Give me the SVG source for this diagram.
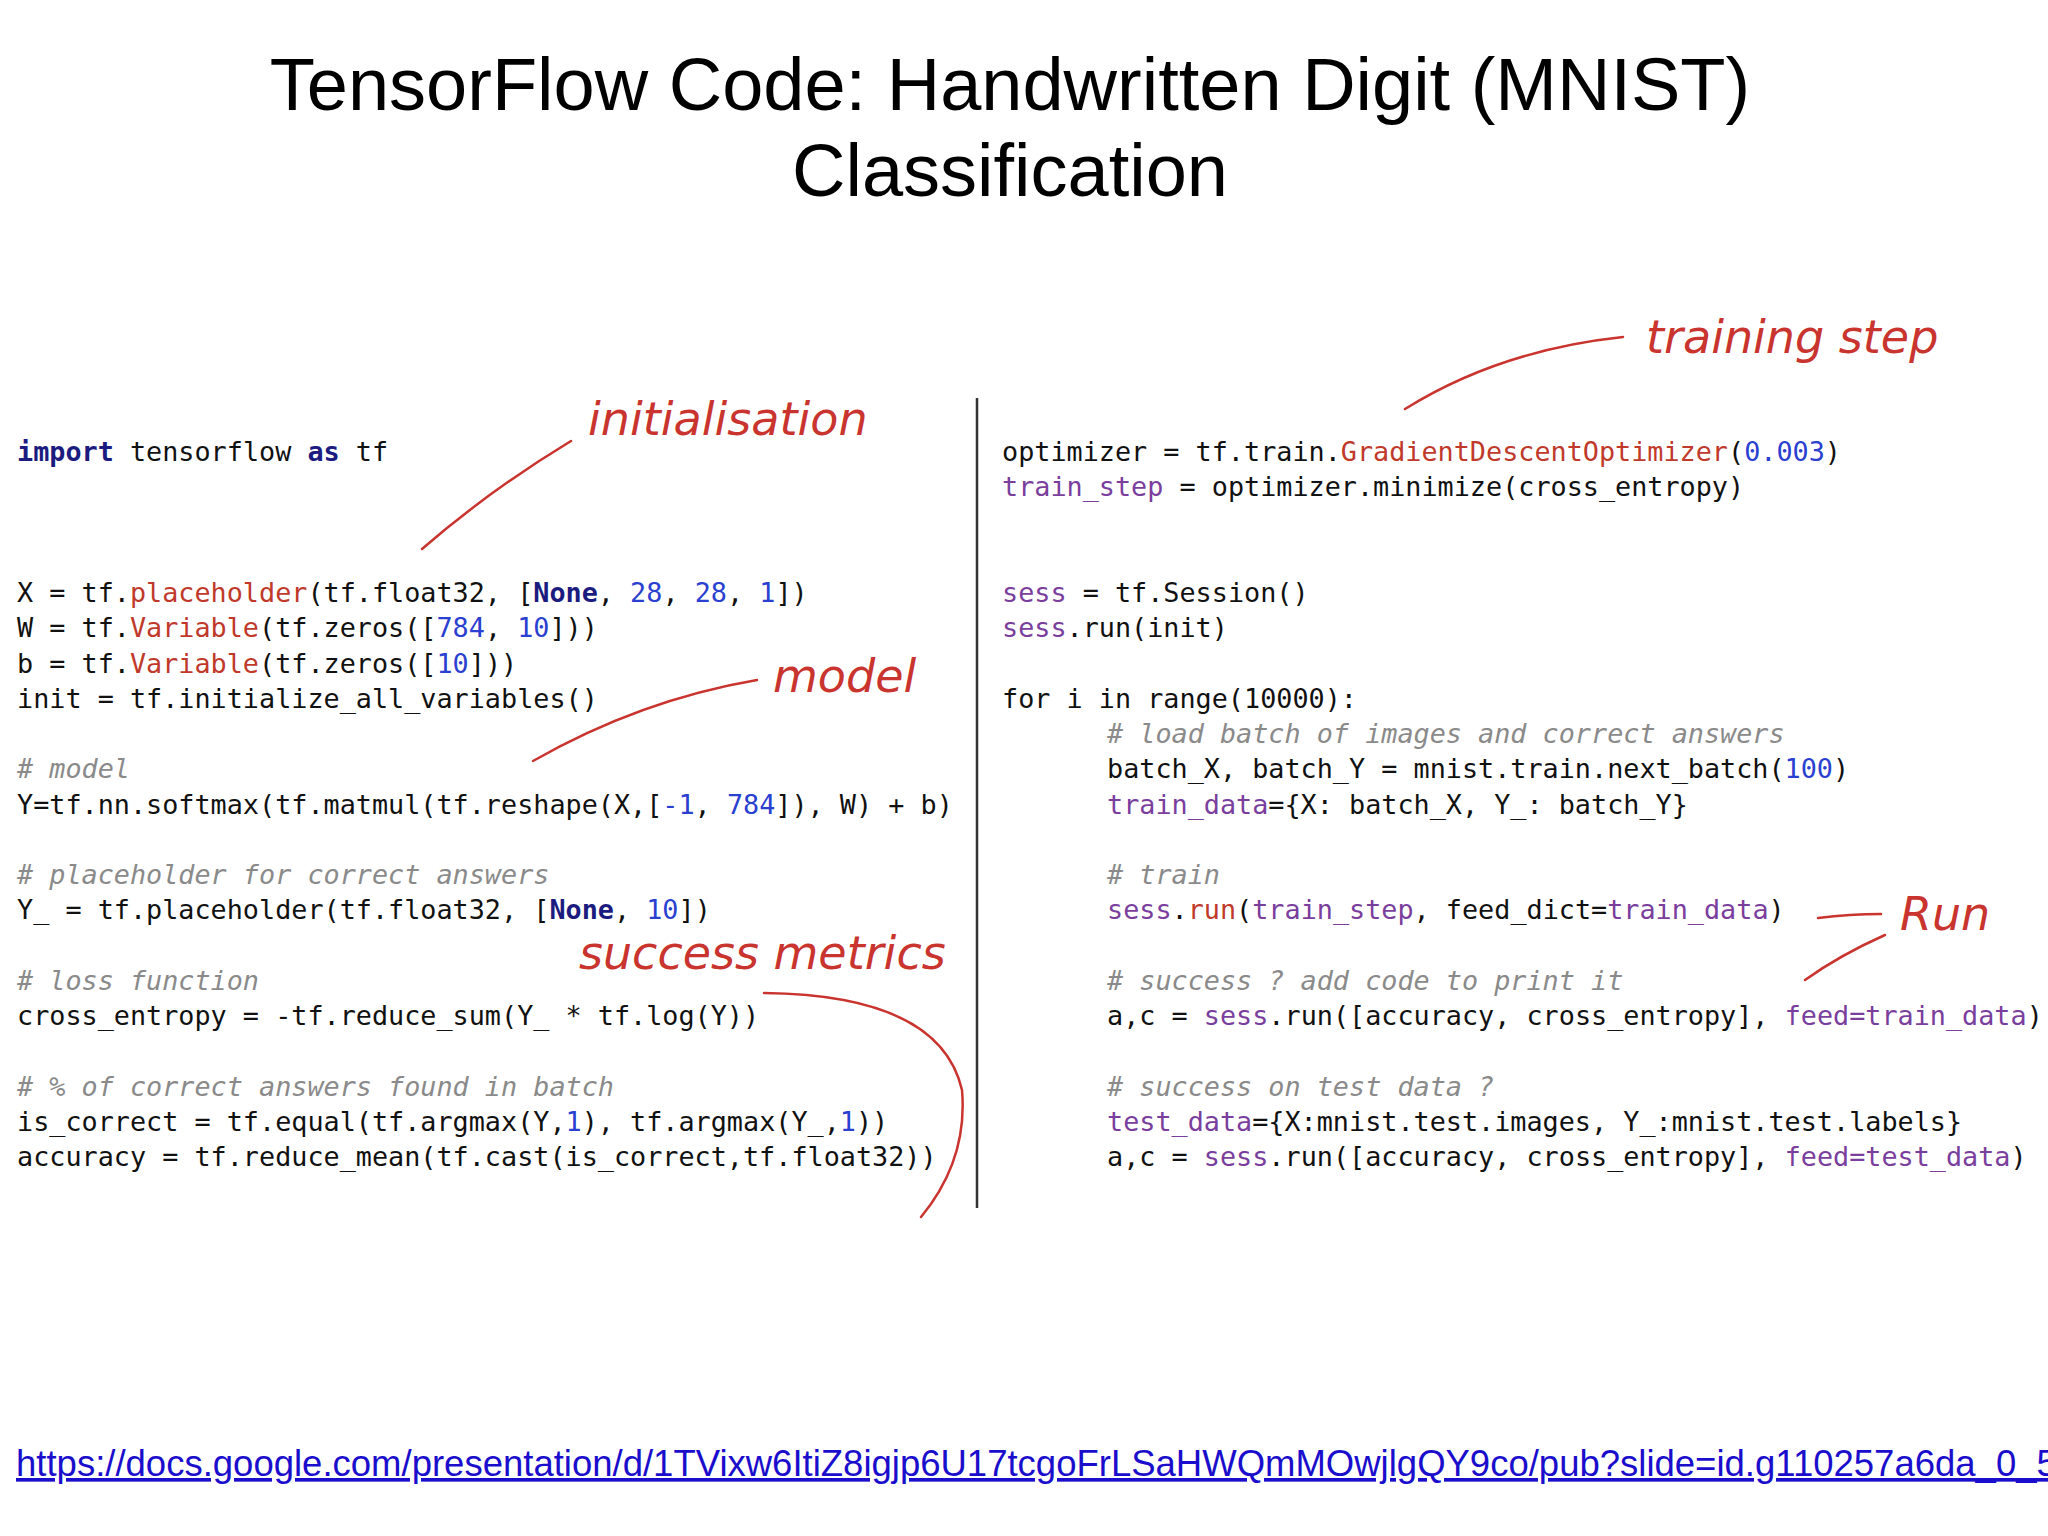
<svg xmlns="http://www.w3.org/2000/svg" width="2048" height="1536" viewBox="0 0 2048 1536">
<style>
.t{font-family:"Liberation Sans",Arial,sans-serif;font-size:74px;fill:#000;text-anchor:middle}
.c{font-family:"DejaVu Sans Mono","Liberation Mono",monospace;font-size:26.8px;fill:#111;white-space:pre}
.k{fill:#1c1c80;font-weight:bold}
.f{fill:#c0392b}
.n{fill:#2a40d0}
.v{fill:#7a3e9d}
.m{fill:#8a8a8a;font-style:italic}
.a{font-family:"DejaVu Sans","Liberation Sans",sans-serif;font-style:italic;font-weight:300;font-size:46px;fill:#c9342f}
.l{fill:none;stroke:#c9342f;stroke-width:2.5;stroke-linecap:round}
</style>
<rect width="2048" height="1536" fill="#fff"/>
<g id="title"><text class="t" x="1010" y="110">TensorFlow Code: Handwritten Digit (MNIST)</text><text class="t" x="1010" y="196">Classification</text></g>
<line x1="977" y1="398" x2="977" y2="1208" stroke="#333" stroke-width="2.5"/>
<g id="left-code">
<text class="c" x="17" y="461"><tspan class="k">import</tspan> tensorflow <tspan class="k">as</tspan> tf</text>
<text class="c" x="17" y="602">X = tf.<tspan class="f">placeholder</tspan>(tf.float32, [<tspan class="k">None</tspan>, <tspan class="n">28</tspan>, <tspan class="n">28</tspan>, <tspan class="n">1</tspan>])</text>
<text class="c" x="17" y="637">W = tf.<tspan class="f">Variable</tspan>(tf.zeros([<tspan class="n">784</tspan>, <tspan class="n">10</tspan>]))</text>
<text class="c" x="17" y="673">b = tf.<tspan class="f">Variable</tspan>(tf.zeros([<tspan class="n">10</tspan>]))</text>
<text class="c" x="17" y="708">init = tf.initialize_all_variables()</text>
<text class="c m" x="17" y="778"># model</text>
<text class="c" x="17" y="814">Y=tf.nn.softmax(tf.matmul(tf.reshape(X,[<tspan class="n">-1</tspan>, <tspan class="n">784</tspan>]), W) + b)</text>
<text class="c m" x="17" y="884"># placeholder for correct answers</text>
<text class="c" x="17" y="919">Y_ = tf.placeholder(tf.float32, [<tspan class="k">None</tspan>, <tspan class="n">10</tspan>])</text>
<text class="c m" x="17" y="990"># loss function</text>
<text class="c" x="17" y="1025">cross_entropy = -tf.reduce_sum(Y_ * tf.log(Y))</text>
<text class="c m" x="17" y="1096"># % of correct answers found in batch</text>
<text class="c" x="17" y="1131">is_correct = tf.equal(tf.argmax(Y,<tspan class="n">1</tspan>), tf.argmax(Y_,<tspan class="n">1</tspan>))</text>
<text class="c" x="17" y="1166">accuracy = tf.reduce_mean(tf.cast(is_correct,tf.float32))</text>
</g>
<g id="right-code">
<text class="c" x="1002" y="461">optimizer = tf.train.<tspan class="f">GradientDescentOptimizer</tspan>(<tspan class="n">0.003</tspan>)</text>
<text class="c" x="1002" y="496"><tspan class="v">train_step</tspan> = optimizer.minimize(cross_entropy)</text>
<text class="c" x="1002" y="602"><tspan class="v">sess</tspan> = tf.Session()</text>
<text class="c" x="1002" y="637"><tspan class="v">sess</tspan>.run(init)</text>
<text class="c" x="1002" y="708">for i in range(10000):</text>
<text class="c m" x="1107" y="743"># load batch of images and correct answers</text>
<text class="c" x="1107" y="778">batch_X, batch_Y = mnist.train.next_batch(<tspan class="n">100</tspan>)</text>
<text class="c" x="1107" y="814"><tspan class="v">train_data</tspan>={X: batch_X, Y_: batch_Y}</text>
<text class="c m" x="1107" y="884"># train</text>
<text class="c" x="1107" y="919"><tspan class="v">sess</tspan>.<tspan class="f">run</tspan>(<tspan class="v">train_step</tspan>, feed_dict=<tspan class="v">train_data</tspan>)</text>
<text class="c m" x="1107" y="990"># success ? add code to print it</text>
<text class="c" x="1107" y="1025">a,c = <tspan class="v">sess</tspan>.run([accuracy, cross_entropy], <tspan class="v">feed=train_data</tspan>)</text>
<text class="c m" x="1107" y="1096"># success on test data ?</text>
<text class="c" x="1107" y="1131"><tspan class="v">test_data</tspan>={X:mnist.test.images, Y_:mnist.test.labels}</text>
<text class="c" x="1107" y="1166">a,c = <tspan class="v">sess</tspan>.run([accuracy, cross_entropy], <tspan class="v">feed=test_data</tspan>)</text>
</g>
<g id="annotations">
<text class="a" x="588" y="435">initialisation</text>
<text class="a" x="773" y="692">model</text>
<text class="a" x="579" y="969">success metrics</text>
<text class="a" x="1646" y="353">training step</text>
<text class="a" x="1900" y="930">Run</text>
</g>
<g id="connectors">
<path class="l" d="M571,441 Q490,490 422,549"/>
<path class="l" d="M757,680 Q640,700 533,761"/>
<path class="l" d="M764,993 Q940,995 962,1090 Q968,1160 921,1217"/>
<path class="l" d="M1623,337 Q1500,350 1405,409"/>
<path class="l" d="M1818,918 Q1850,914 1881,914"/>
<path class="l" d="M1885,935 Q1840,955 1805,980"/>
</g>
<text x="16" y="1476" font-family="Liberation Sans,Arial,sans-serif" font-size="36.5" fill="#1a0dcc" text-decoration="underline">https://docs.google.com/presentation/d/1TVixw6ItiZ8igjp6U17tcgoFrLSaHWQmMOwjlgQY9co/pub?slide=id.g110257a6da_0_59</text>
</svg>
